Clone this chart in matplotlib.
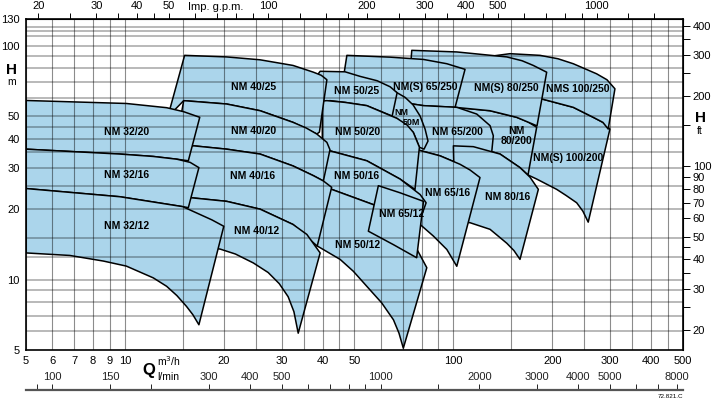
import matplotlib.pyplot as plt
from matplotlib.patches import Polygon
from matplotlib.ticker import NullLocator

plt.rcParams['font.family'] = ['Liberation Sans', 'DejaVu Sans']

# pump fields: outline points (Q in m3/h, H in m), top curve left->right,
# then down the right edge and back along the bottom curve
NM_32_20 = [(5.0, 58.3), (10.1, 56.6), (13.4, 54.3), (15.1, 52.2), (16.9, 49.4),
            (15.6, 32.2), (14.4, 32.7), (12.2, 33.6), (9.66, 34.4), (5.0, 36.1)]
NM_32_16 = [(5.0, 36.1), (9.66, 34.4), (12.2, 33.6), (14.4, 32.7), (15.8, 31.7), (16.8, 30.1),
            (15.6, 20.3), (15.0, 20.5), (9.66, 22.6), (5.0, 24.5)]
NM_32_12 = [(5.0, 24.5), (9.66, 22.6), (15.0, 20.5), (16.9, 19.0), (18.4, 18.0), (20.0, 16.9),
            (16.8, 6.41), (16.1, 7.08), (15.4, 7.68), (14.4, 8.54), (13.4, 9.36), (12.2, 10.17),
            (10.1, 11.42), (8.6, 12.0), (6.8, 12.68), (5.0, 13.0)]
NM_40_25 = [(15.2, 90.9), (20.4, 89.5), (25.8, 87.0), (32.5, 82.3), (37.5, 77.0), (39.6, 74.7),
            (41.2, 71.5), (39.1, 42.7), (38.4, 41.9), (32.5, 47.0), (25.8, 52.7), (20.4, 56.3),
            (15.1, 58.2), (13.5, 49.5)]
NM_40_20 = [(15.1, 58.2), (20.4, 56.3), (25.8, 52.7), (32.5, 47.0), (35.6, 44.5), (38.4, 41.9),
            (41.2, 38.6), (42.1, 35.9), (40.2, 26.4), (37.5, 27.8), (32.5, 30.6), (25.8, 34.4),
            (20.4, 36.1), (16.2, 37.3), (14.3, 37.6)]
NM_40_16 = [(14.3, 36.1), (16.2, 37.3), (20.4, 36.1), (25.8, 34.4), (32.5, 30.6), (37.5, 27.8),
            (40.2, 26.4), (42.6, 24.8), (38.5, 13.9), (32.5, 17.2), (25.8, 20.0), (20.4, 21.6),
            (15.8, 22.4), (14.7, 22.0)]
NM_40_12 = [(14.7, 22.0), (15.8, 22.4), (20.4, 21.6), (25.8, 20.0), (32.5, 17.2), (35.8, 15.6),
            (38.4, 13.6), (39.3, 13.0), (33.7, 5.9), (32.7, 7.29), (31.4, 8.45), (29.5, 9.61),
            (27.3, 10.72), (24.6, 11.78), (21.7, 12.86), (19.5, 13.5), (16.9, 13.95)]
NM_50_25 = [(38.2, 73.6), (39.3, 77.7), (46.8, 77.3), (52.0, 73.9), (58.6, 70.8), (64.2, 66.7),
            (67.4, 62.9), (65.1, 50.0), (54.5, 55.4), (46.8, 57.2), (42.1, 58.2), (37.6, 56.9)]
NM_50M = [(64.2, 65.4), (67.4, 62.9), (71.3, 60.1), (75.4, 55.8), (79.2, 50.0), (82.0, 44.0),
          (83.7, 39.1), (81.4, 36.1), (78.8, 36.8), (75.5, 42.6), (67.3, 48.9), (64.2, 50.0)]
NM_50_20 = [(39.9, 58.0), (41.2, 58.2), (46.8, 57.2), (54.5, 55.4), (67.3, 48.9), (72.3, 45.8),
            (75.5, 42.6), (78.8, 36.8), (76.4, 24.3), (68.8, 26.9), (54.5, 32.2), (42.1, 35.5),
            (39.9, 36.1)]
NM_50_16 = [(39.9, 36.1), (42.1, 35.5), (54.5, 32.2), (68.8, 26.9), (79.2, 23.1), (82.6, 21.3),
            (76.4, 15.6), (57.1, 20.9), (42.6, 24.3), (39.9, 24.5)]
NM_50_12 = [(39.9, 24.5), (42.6, 24.3), (57.1, 20.9), (68.8, 17.2), (77.5, 13.45), (83.0, 11.24),
            (70.4, 5.09), (68.3, 5.9), (65.7, 6.73), (60.5, 7.95), (54.5, 9.36), (49.6, 10.85),
            (45.2, 12.2), (38.4, 13.95), (37.1, 14.8)]
NM_65_12 = [(59.1, 25.2), (68.8, 23.5), (81.1, 21.6), (77.3, 12.4), (65.7, 14.1), (55.1, 16.1)]
NM_65_16 = [(72.8, 36.1), (77.5, 35.9), (91.1, 33.8), (104.8, 31.1), (112.4, 29.4), (120.5, 27.3),
            (102.4, 11.4), (95.5, 13.45), (86.9, 15.35), (79.2, 17.2)]
NM_65_200 = [(61.9, 57.5), (64.2, 58.2), (81.1, 55.4), (102.4, 54.5), (117.8, 51.0), (129.3, 45.5),
             (132.3, 41.2), (130.8, 35.0), (104.8, 31.1), (91.1, 33.8), (77.5, 35.9), (72.8, 36.1)]
NM_65_250 = [(47.4, 90.9), (64.2, 89.3), (81.1, 87.3), (95.5, 83.7), (108.5, 79.2),
             (101.2, 54.5), (81.1, 55.4), (64.2, 58.2), (45.2, 59.2)]
NM_80_16 = [(100.0, 37.3), (115.0, 37.0), (138.7, 34.4), (159.5, 30.1), (171.1, 27.4), (181.4, 24.3),
            (159.5, 12.2), (152.9, 13.3), (145.4, 14.3), (129.3, 16.4), (112.4, 17.5), (101.2, 17.8)]
NM_80_200 = [(94.4, 52.6), (101.2, 54.5), (129.3, 52.7), (155.8, 49.4), (168.7, 47.2), (179.3, 44.8),
             (168.7, 28.0), (159.5, 30.1), (138.7, 34.4), (115.0, 37.0), (100.0, 37.3), (94.4, 37.2)]
NM_80_250 = [(74.7, 95.5), (102.4, 94.0), (145.4, 89.5), (161.8, 86.2), (175.1, 82.3), (192.3, 77.0),
             (179.7, 45.4), (155.8, 49.4), (129.3, 52.7), (101.2, 54.5), (72.8, 59.2)]
NM_100_250 = [(133.9, 90.6), (148.7, 92.4), (183.5, 90.9), (208.2, 87.9), (231.7, 83.7),
              (272.9, 75.8), (293.4, 71.5), (310.3, 65.4), (296.0, 44.0), (285.2, 47.0),
              (266.5, 49.4), (231.7, 54.5), (185.7, 59.2), (177.2, 62.3)]
NM_100_200 = [(173.5, 61.0), (185.7, 59.2), (231.7, 54.5), (266.5, 49.4), (285.2, 47.0), (299.6, 44.0),
              (257.3, 17.6), (247.9, 19.6), (237.3, 21.3), (220.2, 22.9), (206.3, 24.3), (179.3, 26.9),
              (168.7, 28.0), (164.0, 29.7)]

# back to front
fields = [NM_100_200, NM_100_250, NM_80_200, NM_80_250, NM_65_250, NM_65_200, NM_80_16,
          NM_65_16, NM_50M, NM_50_25, NM_50_20, NM_50_16, NM_50_12, NM_40_25, NM_40_20,
          NM_40_16, NM_40_12, NM_32_20, NM_32_16, NM_32_12, NM_65_12]

labels = ['NM 32/20', 'NM 32/16', 'NM 32/12', 'NM 40/25', 'NM 40/20', 'NM 40/16', 'NM 40/12',
          'NM 50/25', 'NM 50/20', 'NM 50/16', 'NM 50/12', 'NM 65/12', 'NM 65/16', 'NM 65/200',
          'NM(S) 65/250', 'NM(S) 80/250', 'NMS 100/250', 'NM\n80/200',
          'NM(S) 100/200', 'NM 80/16']
label_q = [10.1, 10.1, 10.1, 24.6, 24.7, 24.4, 25.1, 50.6, 51.1, 50.6, 51.1, 69.7, 96.0, 103.1,
           82.0, 144.6, 239.5, 155.1, 224.0, 146.7]
label_h = [42.9, 28.0, 16.9, 66.5, 43.0, 27.6, 16.1, 64.3, 42.9, 27.8, 14.1, 19.0, 23.5, 42.6,
           66.8, 65.9, 65.4, 41.2, 33.0, 22.5]

# axes ticks
q_ticks = [5, 6, 7, 8, 9, 10, 20, 30, 40, 50, 100, 200, 300, 400, 500]
h_ticks = [5, 10, 20, 30, 40, 50, 100, 130]
ft_ticks = [20, 25, 30, 35, 40, 45, 50, 60, 70, 80, 90, 100, 150, 200, 250, 300, 350, 400]
ft_labels = ['20', '', '30', '', '40', '', '50', '60', '70', '80', '90', '100', '',
             '200', '', '300', '', '400']
gpm_ticks = [20, 25, 30, 35, 40, 45, 50, 60, 70, 80, 90, 100, 125, 150, 175, 200, 250, 300, 350,
             400, 450, 500, 600, 700, 800, 900, 1000, 1250, 1500]
gpm_labels = ['20', '', '30', '', '40', '', '50', '', '', '', '', '100', '', '', '', '200', '',
              '300', '', '400', '', '500', '', '', '', '', '1000', '', '']
lmin_ticks = [90, 100, 150, 200, 300, 400, 500, 600, 700, 800, 900, 1000, 1500, 2000, 3000,
              4000, 5000, 6000, 7000, 8000]
lmin_labels = ['', '100', '150', '', '300', '400', '500', '', '', '', '', '1000', '', '2000',
               '3000', '4000', '5000', '', '', '8000']

grid_q = [5, 6, 7, 8, 9, 10, 15, 20, 25, 30, 35, 40, 45, 50, 60, 70, 80, 90, 100, 150, 200,
          250, 300, 350, 400, 450, 500]
grid_h = [6, 7, 8, 9, 10, 12.5, 15, 20, 25, 30, 35, 40, 45, 50, 60, 70, 80, 90, 100, 110, 115, 120]

FILL = '#abd5eb'

fig = plt.figure(figsize=(7.17, 4.0), dpi=100)
ax = fig.add_axes([26 / 717, 50 / 400, 657 / 717, 331 / 400])
ax.set_xscale('log')
ax.set_yscale('log')
ax.set_xlim(5, 500)
ax.set_ylim(5, 130)

for i, pts in enumerate(fields):
    ax.add_patch(Polygon(pts, closed=True, facecolor=FILL, edgecolor='black',
                         lw=1.1, joinstyle='round', zorder=2 + i * 0.01))

for q in grid_q:
    ax.axvline(q, color='black', alpha=0.45, lw=0.8, zorder=5)
for h in grid_h:
    ax.axhline(h, color='black', alpha=0.28, lw=1.4, zorder=5)

for txt, q, h in zip(labels, label_q, label_h):
    ax.text(q, h, txt, ha='center', va='center', fontsize=7.5, fontweight='bold',
            linespacing=1.0, zorder=10)
# the small NM 50M field, two short lines
ax.text(69.3, 52.0, 'NM', ha='center', va='center', fontsize=6.5, fontweight='bold', zorder=10)
ax.text(74.8, 46.9, '50M', ha='center', va='center', fontsize=6.5, fontweight='bold', zorder=10)

ax.set_xticks(q_ticks, [str(v) for v in q_ticks])
ax.set_yticks(h_ticks, [str(v) for v in h_ticks])
ax.xaxis.set_minor_locator(NullLocator())
ax.yaxis.set_minor_locator(NullLocator())
ax.tick_params(length=0, labelsize=8, pad=4.5)
for s in ax.spines.values():
    s.set_linewidth(1.2)
    s.set_zorder(12)

top = ax.secondary_xaxis('top', functions=(lambda q: q * 3.6661, lambda g: g / 3.6661))
top.set_xticks(gpm_ticks, gpm_labels)
top.xaxis.set_minor_locator(NullLocator())
top.tick_params(length=4, width=0.7, pad=1.5, labelsize=8)

right = ax.secondary_yaxis('right', functions=(lambda h: h * 3.28084, lambda f: f / 3.28084))
right.set_yticks(ft_ticks, ft_labels)
right.yaxis.set_minor_locator(NullLocator())
right.tick_params(length=5, width=0.7, pad=2, labelsize=8)

lax = fig.add_axes([26 / 717, 10 / 400, 657 / 717, 1e-4])
lax.set_xscale('log')
lax.set_xlim(5 * 1000 / 60, 500 * 1000 / 60)
lax.set_yticks([])
lax.patch.set_visible(False)
for k in ['left', 'right', 'bottom']:
    lax.spines[k].set_visible(False)
lax.spines['top'].set_linewidth(1.6)
lax.spines['top'].set_color('#555555')
lax.xaxis.tick_top()
lax.set_xticks(lmin_ticks, lmin_labels)
lax.xaxis.set_minor_locator(NullLocator())
lax.tick_params(length=4, width=0.7, pad=2, labelsize=8, colors='#222222')

fig.text(216 / 717, 1 - 7 / 400, 'Imp. g.p.m.', ha='center', va='center', fontsize=8)
fig.text(11.5 / 717, 1 - 69.5 / 400, 'H', ha='center', va='center', fontsize=11, fontweight='bold')
fig.text(11.7 / 717, 1 - 82 / 400, 'm', ha='center', va='center', fontsize=7.5)
fig.text(700 / 717, 1 - 118 / 400, 'H', ha='center', va='center', fontsize=11, fontweight='bold')
fig.text(700 / 717, 1 - 131 / 400, 'ft', ha='center', va='center', fontsize=7.5)
fig.text(149 / 717, 1 - 370 / 400, 'Q', ha='center', va='center', fontsize=12, fontweight='bold')
fig.text(157 / 717, 1 - 361 / 400, 'm$^3$/h', ha='left', va='center', fontsize=7.5)
fig.text(157 / 717, 1 - 377 / 400, 'l/min', ha='left', va='center', fontsize=7.5)
fig.text(683 / 717, 1 - 397 / 400, '72.821.C', ha='right', va='center', fontsize=4.5)

fig.savefig('out.png', dpi=100)
